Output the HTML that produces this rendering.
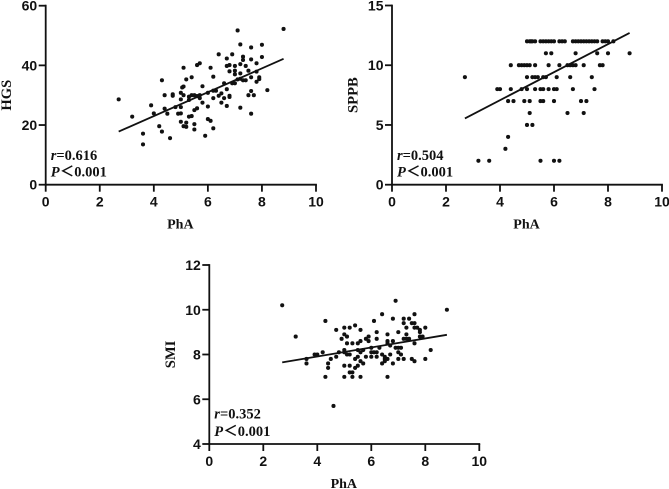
<!DOCTYPE html>
<html lang="en">
<head>
<meta charset="utf-8">
<title>PhA correlation charts</title>
<style>
html,body{margin:0;padding:0;background:#fff;width:669px;height:489px;overflow:hidden}
svg{display:block;filter:blur(0.3px)}
.tick{font:bold 14px "Liberation Sans",sans-serif;fill:#111}
.title-x{font:bold 14px "Liberation Serif",serif;fill:#111}
.title-y{font:bold 14.6px "Liberation Serif",serif;fill:#111}
.stat{font:bold 14.5px "Liberation Serif",serif;fill:#111}
.lt{font:bold 14.5px "Liberation Serif","Noto Sans CJK SC",sans-serif}
</style>
</head>
<body>
<svg id="figure" width="669" height="489" viewBox="0 0 669 489" xmlns="http://www.w3.org/2000/svg"></svg>
<script>
const xTicks = [0, 2, 4, 6, 8, 10];
const xLabel = 'PhA';

const hgsTicks = [0, 20, 40, 60];
const hgsPhA = [2.7,3.2,3.6,3.6,3.9,4.0,4.2,4.3,4.3,4.4,4.4,4.5,4.6,4.7,4.7,4.8,4.9,5,5,5,5,5,5.1,5.1,5.05,5.1,5.1,5.2,5.2,5.2,5.3,5.3,5.3,5.4,5.4,5.4,5.5,5.5,5.5,5.5,5.6,5.6,5.6,5.7,5.7,5.7,5.8,5.8,5.9,6,6,6,6.1,6.1,6.2,6.2,6.2,6.2,6.3,6.4,6.4,6.5,6.5,6.6,6.6,6.7,6.7,6.7,6.7,6.8,6.8,6.8,6.8,6.9,6.9,7,7,7,7,7.1,7.1,7.2,7.2,7.2,7.2,7.2,7.3,7.3,7.3,7.4,7.4,7.5,7.5,7.6,7.6,7.6,7.6,7.6,7.7,7.8,7.8,7.8,7.9,7.9,8,8,8.2,8.8];
const hgsValues = [28.6,22.8,17.1,13.5,26.6,23.9,19.6,35,17.8,30,25.5,23.8,15.6,30.3,29.8,26,23.8,30.8,28.6,26,23.9,21.1,39.2,32.9,32.6,30,19.6,35.3,20.8,19.4,29.5,28.4,22.8,36,30,23,20.3,18.5,25,30,40.1,25.6,29.7,40.7,30,29,33,27.5,16.4,26.2,22,30.8,39.2,21.4,36.2,29,18.9,31.5,31.5,43.7,29.8,27.5,30.6,34,29,42.3,39.8,32,26.4,40.1,38,29.8,29.4,43.7,34,39.8,38.2,37,34,51.7,35.3,47,40.4,37.3,25.8,35.5,42.9,41.8,35,39.8,35,38.2,30,46,42,36,31.4,23.8,30,40.7,37.9,34.5,36,35.4,46.9,42.8,31.7,52.2];
const hgsFitX = [2.7, 8.8];
const hgsFitY = [17.8, 42.2];

const sppbTicks = [0, 5, 10, 15];
const sppbPhA = [5,5.1,5.15,5.2,5.3,5.5,5.6,5.7,5.8,5.9,6,6.2,6.3,6.4,6.7,6.8,6.9,7,7.1,7.2,7.3,7.4,7.5,7.6,7.8,7.9,8,8.2,5.7,5.9,6.8,7.6,8,8.8,4.4,4.7,4.8,4.9,5,5.1,5.3,5.8,6.2,6.5,6.6,6.7,6.8,7.1,7.7,7.8,2.7,5,5.2,5.3,5.4,5.6,5.7,6.1,6.6,7.4,3.9,4,4.4,4.8,5,5.3,5.5,5.6,5.8,6,6.1,6.7,7.5,4.3,4.5,4.9,5.1,5.5,5.6,6,7,7.2,5.1,6.5,7.1,5,5.2,4.3,4.2,3.2,3.6,5.5,6,6.2];
const sppbValues = [12,12,12,12,12,12,12,12,12,12,12,12,12,12,12,12,12,12,12,12,12,12,12,12,12,12,12,12,11,11,11,11,11,11,10,10,10,10,10,10,10,10,10,10,10,10,10,10,10,10,9,9,9,9,9,9,9,9,9,9,8,8,8,8,8,8,8,8,8,8,8,8,8,7,7,7,7,7,7,7,7,7,6,6,6,5,5,4,3,2,2,2,2,2];
const sppbFitX = [2.7, 8.8];
const sppbFitY = [5.55, 12.7];

const smiTicks = [4, 6, 8, 10, 12];
const smiPhA = [2.7,3.2,3.6,3.6,3.9,4,4.2,4.3,4.3,4.4,4.4,4.5,4.6,4.7,4.7,4.8,4.9,5,5,5,5,5,5,5.1,5.1,5.1,5.2,5.2,5.2,5.2,5.3,5.3,5.3,5.4,5.4,5.4,5.5,5.5,5.5,5.5,5.6,5.6,5.6,5.6,5.6,5.7,5.7,5.8,5.8,5.9,5.9,6,6,6,6.1,6.1,6.2,6.2,6.2,6.2,6.3,6.4,6.4,6.4,6.5,6.5,6.5,6.6,6.6,6.6,6.6,6.6,6.7,6.7,6.8,6.8,6.8,6.9,6.9,7,7,7,7,7.1,7.1,7.2,7.2,7.2,7.2,7.3,7.3,7.3,7.4,7.4,7.5,7.5,7.6,7.6,7.6,7.6,7.6,7.7,7.8,7.8,7.8,7.9,8,8,8.2,8.8];
const smiValues = [10.2,8.8,7.6,7.8,8,8,8.1,9.5,7,7.6,7.4,7.8,5.7,7.9,9.1,8.1,8.7,9.2,8.9,8.2,7.5,7,8.1,8.8,8.5,8,9.2,8,7.5,7.2,8.5,7.2,7,9.3,7.8,7.4,8.5,7.5,8.2,7.9,9.1,8.6,7,8.1,7.7,7.6,8.2,8.7,7.9,8.8,8.6,8.3,7.9,8.1,9.5,8.1,9,8.7,7.9,8.1,8.3,9.8,7.6,8,7.8,7.7,7.9,8.9,7,8.6,8.5,7.8,8,8.4,9.6,8.6,7.6,10.4,8.3,9,8.3,7.8,8.1,8.3,8,9.6,9.4,7.8,8.7,9.2,8.9,8.7,9.6,8.7,9.4,7.8,9.8,9.4,9.2,8.5,7.7,9.2,9.1,9,8.8,8.8,9.2,7.8,8.2,10];
const smiFitX = [2.7, 8.8];
const smiFitY = [7.65, 8.88];

const NS = 'http://www.w3.org/2000/svg';
const svg = document.getElementById('figure');

function make(parent, tag, attrs, text) {
  const el = document.createElementNS(NS, tag);
  for (const k in attrs) el.setAttribute(k, attrs[k]);
  if (text !== undefined) el.textContent = text;
  parent.appendChild(el);
  return el;
}

function drawChart(cfg) {
  const xScale = v => cfg.x0 + (v - 0) / 10 * (cfg.x1 - cfg.x0);
  const yMin = cfg.yTicks[0];
  const yMax = cfg.yTicks[cfg.yTicks.length - 1];
  const yScale = v => cfg.y0 + (v - yMin) / (yMax - yMin) * (cfg.y1 - cfg.y0);

  const g = make(svg, 'g', {});
  
  

  const xAxis = make(g, 'line', {x1: cfg.x0 - 0.9, x2: cfg.x1 + 0.9, y1: cfg.y0, y2: cfg.y0, stroke: '#111', 'stroke-width': 1.8});
  
  

  const yAxis = make(g, 'line', {x1: cfg.x0, x2: cfg.x0, y1: cfg.y1 - 0.9, y2: cfg.y0 + 0.9, stroke: '#111', 'stroke-width': 1.8});
  
  

  xTicks.forEach(t => {
    const px = xScale(t);
    const mark = make(g, 'line', {x1: px, x2: px, y1: cfg.y0, y2: cfg.y0 + 7, stroke: '#111', 'stroke-width': 1.8});
    
    
    const label = make(g, 'text', {x: px, y: cfg.y0 + 22, 'text-anchor': 'middle', class: 'tick'}, t);
    
    
  });

  cfg.yTicks.forEach(t => {
    const py = yScale(t);
    const mark = make(g, 'line', {x1: cfg.x0 - 7, x2: cfg.x0, y1: py, y2: py, stroke: '#111', 'stroke-width': 1.8});
    
    
    const label = make(g, 'text', {x: cfg.x0 - 8.5, y: py + 5, 'text-anchor': 'end', class: 'tick'}, t);
    
    
  });

  const xTitle = make(g, 'text', {x: (cfg.x0 + cfg.x1) / 2 - 0.5, y: cfg.y0 + 44, 'text-anchor': 'middle', class: 'title-x'}, xLabel);
  
  

  const yCenter = (cfg.y0 + cfg.y1) / 2;
  const yTitle = make(g, 'text', {x: 0, y: 0, 'text-anchor': 'middle', class: 'title-y', transform: 'translate(' + (cfg.x0 - 34.5) + ',' + yCenter + ') rotate(-90)'}, cfg.yTitle);
  
  

  cfg.px.forEach((v, i) => {
    const dot = make(g, 'circle', {cx: xScale(v), cy: yScale(cfg.py[i]), r: 2.05, fill: '#111'});
    
    
  });

  const fit = make(g, 'line', {x1: xScale(cfg.fitX[0]), y1: yScale(cfg.fitY[0]), x2: xScale(cfg.fitX[1]), y2: yScale(cfg.fitY[1]), stroke: '#111', 'stroke-width': 1.8});
  
  

  const r = make(g, 'text', {x: cfg.x0 + 5, y: cfg.y0 - cfg.rLift, class: 'stat'});
  
  
  make(r, 'tspan', {'font-style': 'italic'}, 'r');
  make(r, 'tspan', {}, '=' + cfg.r);

  const p = make(g, 'text', {x: cfg.x0 + 5, y: cfg.y0 - 8, class: 'stat'});
  
  
  make(p, 'tspan', {'font-style': 'italic'}, 'P');
  make(p, 'tspan', {x: cfg.x0 + 14, class: 'lt'}, '＜');
  make(p, 'tspan', {x: cfg.x0 + 28.5}, '0.001');
}

drawChart({name: 'hgs', x0: 45.7, x1: 316, y0: 184.7, y1: 5.7, yTicks: hgsTicks, yTitle: 'HGS', px: hgsPhA, py: hgsValues, fitX: hgsFitX, fitY: hgsFitY, r: '0.616', rLift: 24.7});
drawChart({name: 'sppb', x0: 392, x1: 662, y0: 184.7, y1: 5.5, yTicks: sppbTicks, yTitle: 'SPPB', px: sppbPhA, py: sppbValues, fitX: sppbFitX, fitY: sppbFitY, r: '0.504', rLift: 24.7});
drawChart({name: 'smi', x0: 209.3, x1: 479.3, y0: 444, y1: 265, yTicks: smiTicks, yTitle: 'SMI', px: smiPhA, py: smiValues, fitX: smiFitX, fitY: smiFitY, r: '0.352', rLift: 25.7});
</script>
</body>
</html>
